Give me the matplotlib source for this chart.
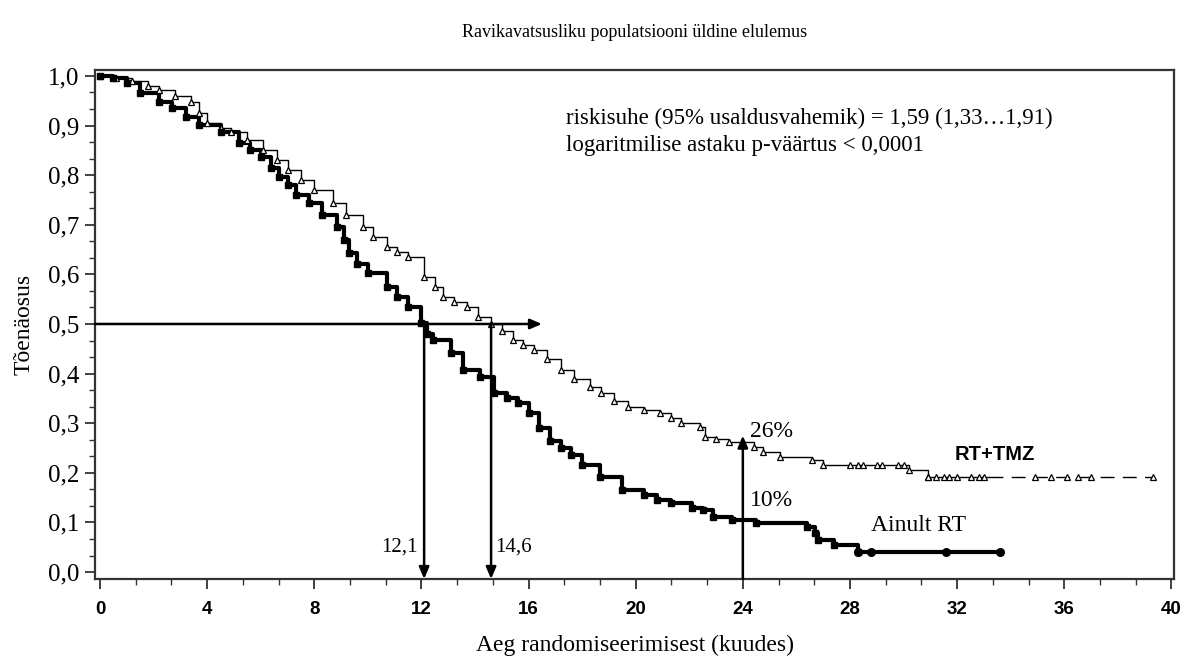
import numpy as np
import matplotlib.pyplot as plt
from matplotlib.ticker import MultipleLocator

# RT+TMZ (avatud kolmnurgad)
tmz_t = [0, 0.6, 1.2, 1.8, 2.2, 2.8, 3.4, 3.7, 4.0, 4.5, 4.9, 5.5, 6.1, 6.6, 7.0, 7.5,
         8.0, 8.7, 9.2, 9.8, 10.2, 10.7, 11.1, 11.5, 12.1, 12.5, 12.8, 13.2, 13.7, 14.1,
         14.6, 15.0, 15.4, 15.8, 16.2, 16.7, 17.2, 17.7, 18.3, 18.7, 19.2, 19.7, 20.3,
         20.9, 21.3, 21.7, 22.4, 22.6, 23.0, 23.5, 24.4, 24.75, 25.4, 26.6, 27.0, 30.2,
         30.9, 33.2]
tmz_s = [1.0, 0.996, 0.99, 0.98, 0.972, 0.96, 0.948, 0.925, 0.905, 0.895, 0.887, 0.87,
         0.851, 0.83, 0.81, 0.79, 0.77, 0.744, 0.72, 0.696, 0.675, 0.655, 0.645, 0.635,
         0.595, 0.575, 0.554, 0.545, 0.534, 0.515, 0.5, 0.485, 0.468, 0.458, 0.448, 0.43,
         0.407, 0.39, 0.373, 0.36, 0.345, 0.333, 0.327, 0.32, 0.31, 0.30, 0.292, 0.272,
         0.268, 0.262, 0.252, 0.242, 0.232, 0.226, 0.216, 0.206, 0.192, 0.192]
tmz_tail_t = [33.2, 39.3]
tmz_tail_s = [0.192, 0.192]
tmz_cens_t = [28.0, 28.3, 28.5, 29.0, 29.2, 29.8, 30.0, 30.9, 31.2, 31.5, 31.7, 32.0,
              32.5, 32.8, 33.0, 34.9, 35.5, 36.1, 36.5, 37.0, 39.3]
tmz_cens_s = [0.216, 0.216, 0.216, 0.216, 0.216, 0.216, 0.216, 0.192, 0.192, 0.192,
              0.192, 0.192, 0.192, 0.192, 0.192, 0.192, 0.192, 0.192, 0.192, 0.192, 0.192]

# Ainult RT (täidetud)
rt_t = [0, 0.5, 1.0, 1.5, 2.2, 2.7, 3.2, 3.7, 4.5, 5.2, 5.6, 6.0, 6.4, 6.7, 7.0, 7.3,
        7.8, 8.3, 8.85, 9.1, 9.3, 9.6, 10.0, 10.7, 11.1, 11.5, 12.0, 12.2, 12.45, 13.1,
        13.55, 14.2, 14.7, 15.2, 15.6, 16.0, 16.4, 16.8, 17.2, 17.6, 18.0, 18.67, 19.5,
        20.3, 20.8, 21.3, 22.1, 22.5, 22.9, 23.6, 24.5, 26.4, 26.7, 26.8, 27.4, 28.3,
        33.6]
rt_s = [1.0, 0.995, 0.985, 0.966, 0.948, 0.935, 0.917, 0.901, 0.887, 0.865, 0.85, 0.837,
        0.815, 0.796, 0.78, 0.76, 0.744, 0.72, 0.696, 0.67, 0.643, 0.62, 0.603, 0.575,
        0.555, 0.534, 0.502, 0.48, 0.468, 0.441, 0.407, 0.393, 0.361, 0.35, 0.34, 0.32,
        0.29, 0.265, 0.25, 0.235, 0.215, 0.192, 0.165, 0.155, 0.145, 0.139, 0.129, 0.125,
        0.111, 0.105, 0.099, 0.091, 0.079, 0.065, 0.054, 0.04, 0.04]
rt_cens_t = [28.3, 28.8, 31.6, 33.6]
rt_cens_s = [0.04, 0.04, 0.04, 0.04]

medians = [12.1, 14.6]
median_labels = ['12,1', '14,6']

serif = ['Liberation Serif', 'DejaVu Serif']
sans = ['Liberation Sans', 'DejaVu Sans']

fig = plt.figure(figsize=(11.84, 6.62), dpi=100)
ax = fig.add_axes([0.0802, 0.1254, 0.9114, 0.7689])

# RT+TMZ
ax.step(tmz_t, tmz_s, where='post', color='black', lw=1.0, zorder=3)
ax.plot(tmz_t[:-1], tmz_s[:-1], ls='none', marker='^', ms=5, mfc='white', mec='black',
        mew=0.9, zorder=4)
ax.plot(tmz_tail_t, tmz_tail_s, color='black', lw=1.0, dashes=(10, 6), zorder=3)
ax.plot(tmz_cens_t, tmz_cens_s, ls='none', marker='^', ms=5, mfc='white', mec='black',
        mew=0.9, zorder=4)

# Ainult RT
ax.step(rt_t, rt_s, where='post', color='black', lw=3.0, zorder=3)
ax.plot(rt_t[:-1], rt_s[:-1], ls='none', marker='s', ms=5, color='black', zorder=4)
ax.plot(rt_cens_t, rt_cens_s, ls='none', marker='o', ms=5.5, color='black', zorder=4)

ax.set_xlim(-0.19, 40.1)
ax.set_ylim(-0.014, 1.012)

# nooled
arr = dict(arrowstyle='-|>,head_length=0.7,head_width=0.3', color='black', lw=1.8,
           shrinkA=0, shrinkB=0)
ax.annotate('', xy=(16.5, 0.5), xytext=(-0.19, 0.5), arrowprops=arr, zorder=5)
for m in medians:
    ax.annotate('', xy=(m, -0.014), xytext=(m, 0.5), arrowprops=arr, zorder=5)
ax.annotate('', xy=(24, 0.275), xytext=(24, -0.014), arrowprops=arr, zorder=5)

ax.text(11.85, 0.05, median_labels[0], ha='right', va='center', fontsize=15, family=serif)
ax.text(14.75, 0.05, median_labels[1], ha='left', va='center', fontsize=15, family=serif)
ax.text(24.25, 0.284, '26%', ha='left', va='center', fontsize=17, family=serif)
ax.text(24.25, 0.145, '10%', ha='left', va='center', fontsize=17, family=serif)
ax.text(31.9, 0.236, 'RT+TMZ', ha='left', va='center', fontsize=14.5, weight='bold',
        family=sans)
ax.text(28.8, 0.093, 'Ainult RT', ha='left', va='center', fontsize=17, family=serif)
ax.text(17.4, 0.915, 'riskisuhe (95% usaldusvahemik) = 1,59 (1,33…1,91)',
        ha='left', va='center', fontsize=16.5, family=serif)
ax.text(17.4, 0.86, 'logaritmilise astaku p-väärtus < 0,0001',
        ha='left', va='center', fontsize=16.5, family=serif)

# teljed
ax.xaxis.set_minor_locator(MultipleLocator(4 / 3))
ax.yaxis.set_minor_locator(MultipleLocator(0.1 / 3))
yt = np.arange(0, 1.01, 0.1)
ax.set_yticks(yt)
ax.set_yticklabels([f'{v:.1f}'.replace('.', ',') for v in yt], fontsize=18, family=serif)
ax.set_xticks(np.arange(0, 41, 4))
ax.set_xticklabels([str(v) for v in range(0, 41, 4)], fontsize=13.5, weight='bold',
                   family=sans)
ax.tick_params(which='major', length=7, width=1.3, color='#333333')
ax.tick_params(which='minor', length=4, width=1.0, color='#333333')
ax.tick_params(axis='x', pad=9)
ax.tick_params(axis='y', pad=4)
for sp in ax.spines.values():
    sp.set_linewidth(1.6)
    sp.set_color('#333333')

ax.set_xlabel('Aeg randomiseerimisest (kuudes)', fontsize=17, family=serif, labelpad=12)
ax.set_ylabel('Tõenäosus', fontsize=17, family=serif, labelpad=10)
ax.set_title('Ravikavatsusliku populatsiooni üldine elulemus', fontsize=13, family=serif,
             pad=24)

fig.savefig('out.png', dpi=100)
